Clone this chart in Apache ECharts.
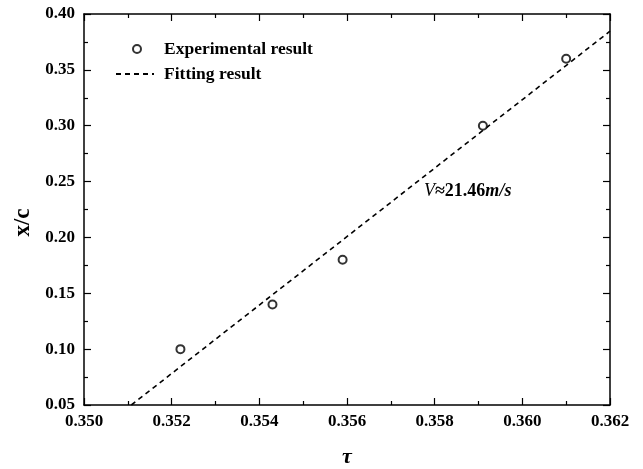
<!DOCTYPE html>
<html>
<head>
<meta charset="utf-8">
<script src="https://cdn.jsdelivr.net/npm/echarts@6/dist/echarts.min.js"></script>
<style>
  html, body { margin: 0; padding: 0; background: #fff; }
  #chart { width: 643px; height: 469px; }
</style>
</head>
<body>
<div id="chart"></div>
<script>
// Measured positions (tau) and normalised positions (x/c)
const tauValues = [0.3522, 0.3543, 0.3559, 0.3591, 0.3610];
const xcValues = [0.10, 0.14, 0.18, 0.30, 0.36];

// Endpoints of the fitted straight line
const fitTau = [0.35108, 0.362];
const fitXc = [0.05, 0.3846];

const xTicks = { min: 0.350, max: 0.362, step: 0.002 };
const yTicks = { min: 0.05, max: 0.40, step: 0.05 };

const fontFamily = '"Liberation Serif", "Times New Roman", serif';

const chart = echarts.init(document.getElementById('chart'));

const axisLine = { show: true, onZero: false, lineStyle: { color: '#000', width: 1.5 } };
const majorTick = { show: true, inside: true, length: 7, lineStyle: { color: '#000', width: 1.2 } };
const minorTick = { show: true, splitNumber: 2, length: 4, lineStyle: { color: '#000', width: 1.2 } };

function xAxisDef(position, showLabels) {
  return {
    type: 'value', position: position,
    min: xTicks.min, max: xTicks.max, interval: xTicks.step,
    axisLine: axisLine, axisTick: majorTick, minorTick: minorTick,
    splitLine: { show: false },
    axisLabel: {
      show: showLabels, color: '#000', fontFamily: fontFamily, fontWeight: 'bold',
      fontSize: 17, margin: 8,
      formatter: v => v.toFixed(3)
    }
  };
}
function yAxisDef(position, showLabels) {
  return {
    type: 'value', position: position,
    min: yTicks.min, max: yTicks.max, interval: yTicks.step,
    axisLine: axisLine, axisTick: majorTick, minorTick: minorTick,
    splitLine: { show: false },
    axisLabel: {
      show: showLabels, color: '#000', fontFamily: fontFamily, fontWeight: 'bold',
      fontSize: 17, margin: 9,
      formatter: v => v.toFixed(2)
    }
  };
}

const bottomX = xAxisDef('bottom', true);
bottomX.name = 'τ';
bottomX.nameLocation = 'middle';
bottomX.nameGap = 41;
bottomX.nameTextStyle = { color: '#000', fontFamily: fontFamily, fontWeight: 'bold', fontStyle: 'italic', fontSize: 22 };

const leftY = yAxisDef('left', true);
leftY.name = 'x/c';
leftY.nameLocation = 'middle';
leftY.nameGap = 48;
leftY.nameRotate = 90;
leftY.nameTextStyle = { color: '#000', fontFamily: fontFamily, fontWeight: 'bold', fontSize: 23, padding: [0, 26, 0, 0] };

const legendText = { color: '#000', fontFamily: fontFamily, fontWeight: 'bold', fontSize: 17.5 };

chart.setOption({
  animation: false,
  backgroundColor: '#fff',
  grid: { left: 84, right: 33, top: 14, bottom: 64, outerBoundsMode: 'none' },
  xAxis: [bottomX, xAxisDef('top', false)],
  yAxis: [leftY, yAxisDef('right', false)],
  legend: [
    {
      data: ['Experimental result'],
      left: 127, top: 35,
      itemWidth: 8, itemHeight: 8,
      itemStyle: { borderWidth: 1.2 },
      textStyle: Object.assign({ padding: [0, 0, 0, 18] }, legendText)
    },
    {
      data: ['Fitting result'],
      left: 110, top: 60,
      itemWidth: 38, itemHeight: 8,
      itemStyle: { color: 'rgba(0,0,0,0)', borderWidth: 0 },
      textStyle: Object.assign({ padding: [0, 0, 0, 5] }, legendText)
    }
  ],
  graphic: [{
    type: 'text',
    left: 424, top: 182,
    style: {
      text: '{i|V}{b|≈21.46}{bi|m/s}',
      rich: {
        i: { fontFamily: fontFamily, fontStyle: 'italic', fontSize: 18, fill: '#000' },
        b: { fontFamily: fontFamily, fontWeight: 'bold', fontSize: 18, fill: '#000' },
        bi: { fontFamily: fontFamily, fontWeight: 'bold', fontStyle: 'italic', fontSize: 18, fill: '#000' }
      }
    }
  }],
  series: [
    {
      name: 'Experimental result',
      type: 'scatter',
      xAxisIndex: 0, yAxisIndex: 0,
      symbol: 'emptyCircle', symbolSize: 8,
      itemStyle: { color: '#000', borderColor: '#000', borderWidth: 1.2 },
      data: tauValues.map((t, i) => [t, xcValues[i]]),
      z: 3
    },
    {
      name: 'Fitting result',
      type: 'line',
      xAxisIndex: 0, yAxisIndex: 0,
      symbol: 'none',
      lineStyle: { color: '#000', width: 1.6, type: [5, 4] },
      itemStyle: { color: '#000' },
      data: fitTau.map((t, i) => [t, fitXc[i]]),
      z: 2
    }
  ]
});
</script>
</body>
</html>
